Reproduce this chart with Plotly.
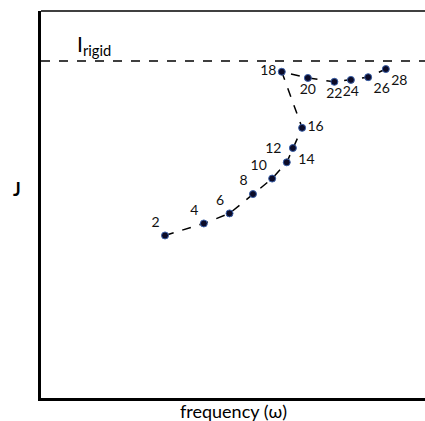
import plotly.graph_objects as go

freq_labels = ["2", "4", "6", "8", "10", "12", "14", "16", "18", "20", "22", "24", "26", "28"]
x_vals = [32.3, 42.4, 49.1, 55.2, 60.2, 64.0, 65.6, 68.0, 62.7, 69.5, 76.4, 80.7, 85.2, 89.8]
j_vals = [42.0, 45.1, 47.7, 52.7, 56.7, 60.9, 64.6, 69.8, 84.3, 82.7, 81.7, 82.2, 82.9, 85.0]
j_rigid = 87.1

text_pos = ["top left", "top left", "top left", "top left", "top left", "top left",
            "bottom right", "middle right", "middle left", "bottom center",
            "bottom center", "bottom center", "bottom right", "bottom right"]

font = "Lato, 'Open Sans', sans-serif"

fig = go.Figure()
fig.add_trace(go.Scatter(
    x=x_vals, y=j_vals, mode="lines+markers+text",
    text=freq_labels, textposition=text_pos,
    textfont=dict(family=font, size=14, color="#111"),
    line=dict(color="black", width=1.5, dash="dash"),
    marker=dict(size=7, color="#0b0b28", line=dict(color="#3a5fa8", width=1)),
    hoverinfo="skip", showlegend=False, cliponaxis=False,
))

fig.add_hline(y=j_rigid, line=dict(color="black", width=1.5, dash="dash"))
fig.add_annotation(x=8.8, y=j_rigid, xref="x", yref="y", text="I<sub>rigid</sub>",
                   xanchor="left", yanchor="bottom", yshift=0, showarrow=False,
                   font=dict(family=font, size=21, color="black"))

fig.add_annotation(x=0.5, y=0, xref="paper", yref="paper", text="frequency (ω)",
                   xanchor="center", yanchor="top", yshift=0, showarrow=False,
                   font=dict(family=font, size=18, color="black"))
fig.add_annotation(x=0, y=0.54, xref="paper", yref="paper", text="<b>J</b>",
                   xanchor="center", xshift=-24, showarrow=False,
                   font=dict(family=font, size=18, color="black"))

fig.add_shape(type="line", xref="paper", yref="paper", x0=0, x1=1, y0=1, y1=1,
              line=dict(color="black", width=1.5))

fig.update_xaxes(range=[0, 100], showgrid=False, zeroline=False, showticklabels=False,
                 ticks="", showline=True, linecolor="black", linewidth=2.5)
fig.update_yaxes(range=[0, 100], showgrid=False, zeroline=False, showticklabels=False,
                 ticks="", showline=True, linecolor="black", linewidth=2.5)

fig.update_layout(width=425, height=421, margin=dict(l=41, r=0, t=11, b=23),
                  plot_bgcolor="white", paper_bgcolor="white")

fig.write_html("out.html", config={"displayModeBar": False},
               post_script="document.body.style.margin='0';document.body.style.overflow='hidden';")
